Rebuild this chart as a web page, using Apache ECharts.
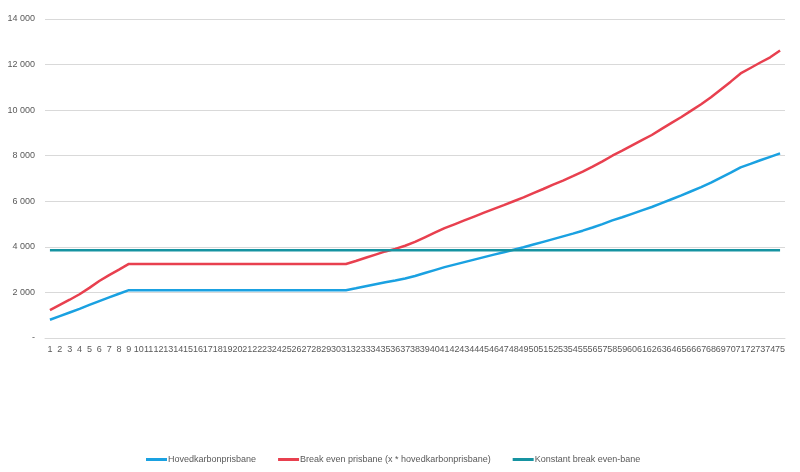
<!DOCTYPE html>
<html lang="no">
<head>
<meta charset="UTF-8">
<title>Karbonprisbaner</title>
<style>
  html, body { margin: 0; padding: 0; background: #fff; }
  #chart { width: 800px; height: 472px; }
</style>
</head>
<body>
<div id="chart"></div>
<script src="https://cdn.jsdelivr.net/npm/echarts@6/dist/echarts.min.js"></script>
<script type="text/javascript">
// kategorier 1..75
var categories = [];
for (var i = 1; i <= 75; i++) categories.push(String(i));

var seriesNames = ['Hovedkarbonprisbane', 'Break even prisbane (x * hovedkarbonprisbane)', 'Konstant break even-bane'];

// Hovedkarbonprisbane
var hovedbane = [
  800, 960, 1120, 1280, 1450, 1620, 1780, 1940, 2100, 2100,
  2100, 2100, 2100, 2100, 2100, 2100, 2100, 2100, 2100, 2100,
  2100, 2100, 2100, 2100, 2100, 2100, 2100, 2100, 2100, 2100,
  2100, 2180, 2270, 2360, 2450, 2520, 2610, 2720, 2850, 2980,
  3110, 3220, 3330, 3440, 3550, 3660, 3760, 3870, 3980, 4100,
  4220, 4340, 4460, 4580, 4710, 4850, 5000, 5160, 5300, 5450,
  5600, 5750, 5920, 6090, 6260, 6440, 6620, 6820, 7040, 7260,
  7490, 7640, 7800, 7950, 8100
];

// Break even prisbane
var breakEven = [
  1220, 1450, 1680, 1920, 2200, 2500, 2760, 3000, 3250, 3250,
  3250, 3250, 3250, 3250, 3250, 3250, 3250, 3250, 3250, 3250,
  3250, 3250, 3250, 3250, 3250, 3250, 3250, 3250, 3250, 3250,
  3250, 3380, 3520, 3660, 3800, 3910, 4050, 4220, 4420, 4620,
  4820, 4990, 5160, 5330, 5500, 5670, 5830, 6000, 6170, 6360,
  6540, 6730, 6910, 7100, 7300, 7520, 7750, 8000, 8220, 8450,
  8680, 8910, 9180, 9440, 9700, 9980, 10260, 10570, 10910, 11250,
  11610, 11850, 12090, 12320, 12620
];

// Konstant break even-bane
var konstant = [];
for (var k = 0; k < 75; k++) konstant.push(3850);

var colors = ['#1aa1e1', '#e8404f', '#1693a1'];

function fmt(v) {
    if (v === 0) return '-';
    return String(v).replace(/\B(?=(\d{3})+(?!\d))/g, ' ');
}

var chart = echarts.init(document.getElementById('chart'));
var option = {
    animation: false,
    color: colors,
    textStyle: { fontFamily: 'Liberation Sans, Arial, sans-serif' },
    grid: { left: 45, right: 15, top: 19, bottom: 134, containLabel: false },
    legend: {
        data: seriesNames,
        left: 141,
        top: 450,
        icon: 'rect',
        itemWidth: 21,
        itemHeight: 3,
        itemGap: 22,
        textStyle: { color: '#595959', fontSize: 9, padding: [0, 0, 0, -4] }
    },
    xAxis: {
        type: 'category',
        data: categories,
        boundaryGap: true,
        axisLine: { lineStyle: { color: '#d9d9d9' } },
        axisTick: { show: false },
        axisLabel: { interval: 0, color: '#595959', fontSize: 9, margin: 7 }
    },
    yAxis: {
        type: 'value',
        min: 0,
        max: 14000,
        interval: 2000,
        axisLine: { show: false },
        axisTick: { show: false },
        splitLine: { lineStyle: { color: '#d9d9d9' } },
        axisLabel: { color: '#595959', fontSize: 9, margin: 10, formatter: fmt }
    },
    series: [
        { name: seriesNames[0], type: 'line', data: hovedbane, symbol: 'none', lineStyle: { width: 2.5 } },
        { name: seriesNames[1], type: 'line', data: breakEven, symbol: 'none', lineStyle: { width: 2.5 } },
        { name: seriesNames[2], type: 'line', data: konstant, symbol: 'none', lineStyle: { width: 2.5 } }
    ]
};
chart.setOption(option);
</script>
</body>
</html>
